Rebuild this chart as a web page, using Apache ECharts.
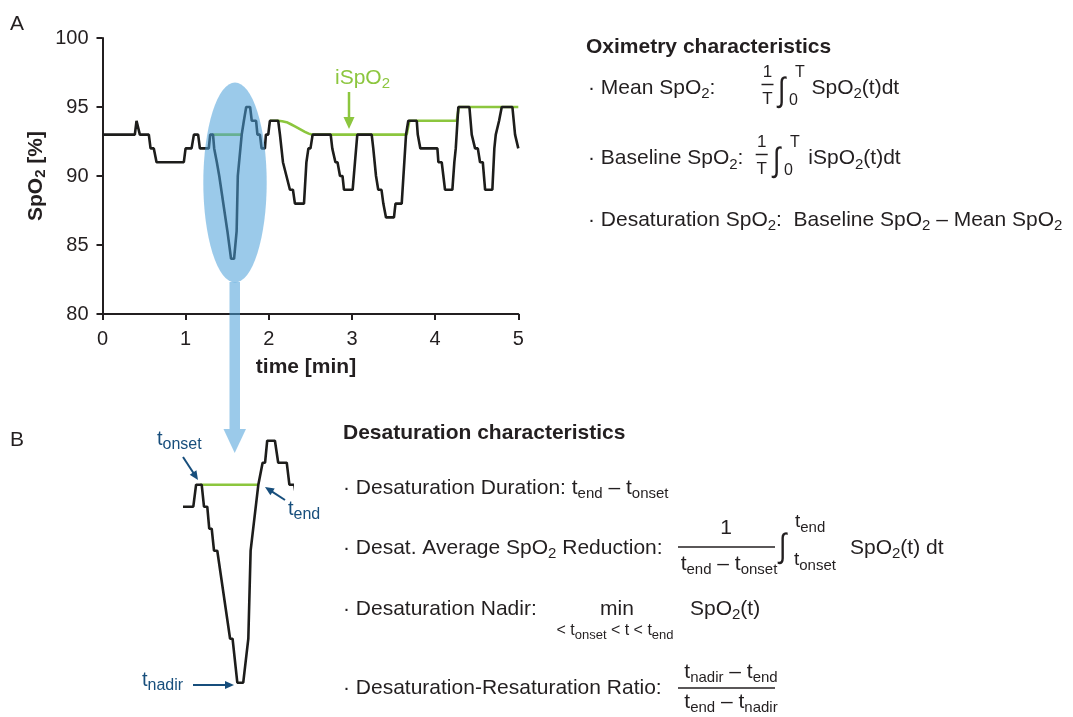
<!DOCTYPE html>
<html><head><meta charset="utf-8">
<script src="https://cdn.jsdelivr.net/npm/echarts@6/dist/echarts.min.js"></script>
<style>html,body{margin:0;padding:0;background:#fff}#c{width:1073px;height:717px}</style>
</head><body><div id="c"></div>
<script>
// ---------------- data ----------------
const xTickValues = [0, 1, 2, 3, 4, 5];          // time [min]
const yTickValues = [80, 85, 90, 95, 100];       // SpO2 [%]

// SpO2 trace: vertices (time in minutes, SpO2 in %)
const spo2Time = [
  0.000, 0.389, 0.409, 0.428, 0.449, 0.557, 0.578, 0.617, 0.650, 0.978,
  0.999, 1.071, 1.099, 1.150, 1.171, 1.278, 1.295, 1.329, 1.343, 1.363,
  1.375, 1.390, 1.404, 1.424, 1.502, 1.517, 1.546, 1.582, 1.613, 1.627,
  1.674, 1.700, 1.715, 1.728, 1.775, 1.795, 1.847, 1.863, 1.893, 1.913,
  1.953, 1.965, 1.993, 2.013, 2.113, 2.134, 2.152, 2.170, 2.194, 2.212,
  2.236, 2.254, 2.290, 2.314, 2.423, 2.452, 2.476, 2.501, 2.527, 2.744,
  2.763, 2.783, 2.801, 2.826, 2.856, 2.886, 2.904, 3.008, 3.036, 3.064,
  3.237, 3.256, 3.289, 3.316, 3.355, 3.377, 3.391, 3.409, 3.505, 3.523,
  3.598, 3.650, 3.677, 3.779, 3.791, 3.806, 3.822, 4.027, 4.039, 4.079,
  4.099, 4.119, 4.207, 4.231, 4.248, 4.279, 4.412, 4.440, 4.480, 4.513,
  4.540, 4.573, 4.601, 4.688, 4.712, 4.729, 4.769, 4.801, 4.929, 4.961,
  4.985, 5.000
];
const spo2Value = [
  93, 93, 94, 94, 93, 93, 92, 92, 91, 91,
  92, 92, 93, 93, 92, 92, 93, 93, 92, 92,
  91, 91, 90, 90, 86, 86, 84, 84, 86, 90,
  93, 94, 94, 95, 95, 94, 94, 93, 93, 92,
  92, 93, 93, 94, 94, 93, 92, 91, 91, 90,
  90, 89, 89, 88, 88, 91, 92, 92, 93, 93,
  92, 92, 91, 91, 90, 90, 89, 89, 91, 93,
  93, 92, 90, 89, 89, 88, 88, 87, 87, 88,
  88, 93, 94, 94, 93, 93, 92, 92, 91, 91,
  90, 89, 89, 91, 92, 95, 95, 93, 92, 92,
  91, 91, 89, 89, 92, 93, 94, 95, 95, 93,
  93, 92
];

// iSpO2 (baseline) : during the desaturation event, and after it
const ispo2EventTime  = [1.319, 1.672];
const ispo2EventValue = [93, 93];
const ispo2BaseTime  = [2.013, 2.113, 2.160, 2.214, 2.265, 2.314, 2.374, 2.434, 2.480, 2.515, 3.658, 3.690, 4.260, 4.285, 5.000];
const ispo2BaseValue = [94,    94,    93.97, 93.9,  93.75, 93.6,  93.4,  93.2,  93.07, 93.0,  93,    94,    94,    95,    95];

// zoomed desaturation window shown in panel B (minutes)
const zoomStart = 1.2274, zoomEnd = 1.880;
const zoomMin = 83.5, zoomMax = 95.5;

// ---------------- styling / helpers ----------------
const FONT = '"Liberation Sans", Arial, Helvetica, sans-serif';
const INK = '#231f20', GREEN = '#8cc63e', NAVY = '#174e7c';
const BLUE = 'rgba(73,159,217,0.55)';
const MAIN = 21, SUB = 15;
const ctx = document.createElement('canvas').getContext('2d');
const G = [];
function fontStr(s, b) { return (b ? 'bold ' : '') + s + 'px ' + FONT; }
function tw(t, s, b) { ctx.font = fontStr(s, b); return ctx.measureText(t).width; }
function txt(t, x, y, size, o) {
  o = o || {};
  G.push({ type: 'text', z: 30, x: x, y: y, rotation: o.rot || 0, scaleY: o.sy || 1,
    style: { text: t, font: fontStr(size, o.bold), fill: o.color || INK,
      textAlign: 'left', textVerticalAlign: 'middle', align: 'left', verticalAlign: 'middle' } });
}
function norm(parts, o) {
  return parts.map(function (p) {
    const t = Array.isArray(p) ? p[0] : p, k = Array.isArray(p) ? p[1] : '';
    const size = k ? (o.sub || SUB) : (o.size || MAIN);
    const dy = k === 'sub' ? (o.subDy != null ? o.subDy : 6) : (k === 'sup' ? -(o.supDy || 8) : 0);
    return { t: t, size: size, dy: dy, w: tw(t, size, o.bold) };
  });
}
function runW(parts, o) { o = o || {}; return norm(parts, o).reduce(function (s, p) { return s + p.w; }, 0); }
function run(x, y, parts, o) { o = o || {}; let cx = x; norm(parts, o).forEach(function (p) { txt(p.t, cx, y + p.dy, p.size, o); cx += p.w; }); return cx; }
function runC(cx, y, parts, o) { o = o || {}; return run(cx - runW(parts, o) / 2, y, parts, o); }
function runV(cx, cy, parts, o) {
  o = o || {};
  const items = norm(parts, o);
  const tot = items.reduce(function (s, p) { return s + p.w; }, 0);
  let y = cy + tot / 2;
  items.forEach(function (p) { txt(p.t, cx + p.dy, y, p.size, Object.assign({}, o, { rot: Math.PI / 2 })); y -= p.w; });
}
function hline(x1, x2, y, w) { G.push({ type: 'line', z: 30, shape: { x1: x1, y1: y, x2: x2, y2: y }, style: { stroke: INK, lineWidth: w || 1.5 } }); }
function arrow(x1, y1, x2, y2, color, w, hl, hw) {
  const a = Math.atan2(y2 - y1, x2 - x1);
  const bx = x2 - hl * Math.cos(a), by = y2 - hl * Math.sin(a);
  G.push({ type: 'line', z: 30, shape: { x1: x1, y1: y1, x2: bx + Math.cos(a), y2: by + Math.sin(a) }, style: { stroke: color, lineWidth: w } });
  const px = -Math.sin(a) * hw / 2, py = Math.cos(a) * hw / 2;
  G.push({ type: 'polygon', z: 30, shape: { points: [[x2, y2], [bx + px, by + py], [bx - px, by - py]] }, style: { fill: color } });
}
function integral(x, y) { txt('∫', x, y, 27, { sy: 1.25 }); }

// ---------------- overlays ----------------
G.push({ type: 'circle', z: 10, x: 235, y: 182.5, scaleX: 0.317, scaleY: 1, shape: { cx: 0, cy: 0, r: 100 }, style: { fill: BLUE } });
G.push({ type: 'rect', z: 10, shape: { x: 229.5, y: 282, width: 10.5, height: 147 }, style: { fill: BLUE } });
G.push({ type: 'polygon', z: 10, shape: { points: [[223.5, 429], [246, 429], [234.7, 453]] }, style: { fill: BLUE } });

// panel letters
txt('A', 10, 24, 21); txt('B', 10, 440, 21);
// axis names
runV(36, 176, ['SpO', ['2', 'sub'], ' [%]'], { bold: true, subDy: 5 });
runC(306, 367, ['time [min]'], { bold: true });
// iSpO2 label
run(335, 78, ['iSpO', ['2', 'sub']], { color: GREEN });
arrow(349, 92, 349, 129, GREEN, 2.5, 12, 11);

// panel B annotations
run(157, 439, ['t', ['onset', 'sub']], { color: NAVY, size: 20, sub: 16 });
arrow(183, 457, 198, 480, NAVY, 2, 9, 8);
run(288, 509, ['t', ['end', 'sub']], { color: NAVY, size: 20, sub: 16 });
arrow(285, 500, 265, 487, NAVY, 2, 9, 8);
run(142, 680, ['t', ['nadir', 'sub']], { color: NAVY, size: 20, sub: 16 });
arrow(193, 685, 234, 685, NAVY, 2, 9, 8);

// Oximetry characteristics
run(586, 47, ['Oximetry characteristics'], { bold: true });
run(588, 88, ['· Mean SpO', ['2', 'sub'], ':']);
runC(767.5, 72.5, ['1'], { size: 17 }); hline(761.5, 773.5, 84.5); runC(767.5, 99.5, ['T'], { size: 17 });
integral(778, 92); txt('T', 795, 72.5, 16); txt('0', 789, 101, 16);
run(811.5, 88, ['SpO', ['2', 'sub'], '(t)dt']);

run(588, 158.5, ['· Baseline SpO', ['2', 'sub'], ':']);
runC(761.7, 142.5, ['1'], { size: 17 }); hline(755.7, 767.7, 154.5); runC(761.7, 169.5, ['T'], { size: 17 });
integral(773, 162); txt('T', 790, 142.5, 16); txt('0', 784, 171, 16);
run(808.3, 158.5, ['iSpO', ['2', 'sub'], '(t)dt']);

run(588, 220, ['· Desaturation SpO', ['2', 'sub'], ':  Baseline SpO', ['2', 'sub'], ' – Mean SpO', ['2', 'sub']]);

// Desaturation characteristics
run(343, 433, ['Desaturation characteristics'], { bold: true });
run(343, 488, ['· Desaturation Duration: t', ['end', 'sub'], ' – t', ['onset', 'sub']]);
run(343, 548, ['· Desat. Average SpO', ['2', 'sub'], ' Reduction:']);
runC(726, 528, ['1']); hline(678, 775, 547); runC(729, 564, ['t', ['end', 'sub'], ' – t', ['onset', 'sub']]);
integral(779, 548);
run(795, 522, ['t', ['end', 'sub']], { size: 19 });
run(794, 560, ['t', ['onset', 'sub']], { size: 19 });
run(850, 548, ['SpO', ['2', 'sub'], '(t) dt']);
run(343, 609, ['· Desaturation Nadir:']);
runC(617, 609, ['min']);
runC(615, 631, ['< t', ['onset', 'sub'], ' < t < t', ['end', 'sub']], { size: 16, sub: 13, subDy: 4 });
run(690, 609, ['SpO', ['2', 'sub'], '(t)']);
run(343, 688, ['· Desaturation-Resaturation Ratio:']);
runC(731, 672, ['t', ['nadir', 'sub'], ' – t', ['end', 'sub']]); hline(678, 775, 688); runC(731, 702, ['t', ['end', 'sub'], ' – t', ['nadir', 'sub']]);

// ---------------- chart ----------------
function pairs(ts, vs) { return ts.map(function (t, i) { return [t, vs[i]]; }); }
const spo2 = pairs(spo2Time, spo2Value);
const evt = pairs(ispo2EventTime, ispo2EventValue);
const base = pairs(ispo2BaseTime, ispo2BaseValue);
const axisStyle = { color: INK, width: 2 };
const lbl = { color: '#231f20', fontSize: 20, fontFamily: FONT };

const chart = echarts.init(document.getElementById('c'), null, { renderer: 'canvas' });
chart.setOption({
  animation: false,
  backgroundColor: '#fff',
  grid: [
    { left: 102.5, top: 38, width: 415.8, height: 276 },
    { left: 185, top: 484.7 - (zoomMax - 93) * 22, width: 109.3 * (zoomEnd - zoomStart) / (1.893 - zoomStart), height: (zoomMax - zoomMin) * 22 }
  ],
  xAxis: [
    { type: 'value', gridIndex: 0, min: xTickValues[0], max: xTickValues[xTickValues.length - 1], interval: 1,
      axisLine: { show: true, onZero: false, lineStyle: axisStyle },
      axisTick: { show: true, length: 6, lineStyle: axisStyle },
      axisLabel: Object.assign({ margin: 15 }, lbl), splitLine: { show: false } },
    { type: 'value', gridIndex: 1, min: zoomStart, max: zoomEnd, show: false, splitLine: { show: false } }
  ],
  yAxis: [
    { type: 'value', gridIndex: 0, min: yTickValues[0], max: yTickValues[yTickValues.length - 1], interval: 5,
      axisLine: { show: true, onZero: false, lineStyle: axisStyle },
      axisTick: { show: true, length: 6, lineStyle: axisStyle },
      axisLabel: Object.assign({ margin: 14 }, lbl), splitLine: { show: false } },
    { type: 'value', gridIndex: 1, min: zoomMin, max: zoomMax, show: false, splitLine: { show: false } }
  ],
  series: [
    { type: 'line', xAxisIndex: 0, yAxisIndex: 0, data: evt, symbol: 'none', z: 2, lineStyle: { color: GREEN, width: 2.6 } },
    { type: 'line', xAxisIndex: 0, yAxisIndex: 0, data: base, symbol: 'none', z: 2, lineStyle: { color: GREEN, width: 2.6 } },
    { type: 'line', xAxisIndex: 0, yAxisIndex: 0, data: spo2, symbol: 'none', z: 3, lineStyle: { color: '#1d1d1b', width: 2.6 } },
    { type: 'line', xAxisIndex: 1, yAxisIndex: 1, data: evt, symbol: 'none', z: 2, lineStyle: { color: GREEN, width: 2.6 } },
    { type: 'line', xAxisIndex: 1, yAxisIndex: 1, data: spo2, symbol: 'none', z: 3, clip: true, lineStyle: { color: '#1d1d1b', width: 2.6 } }
  ],
  graphic: G
});
</script>
</body></html>
